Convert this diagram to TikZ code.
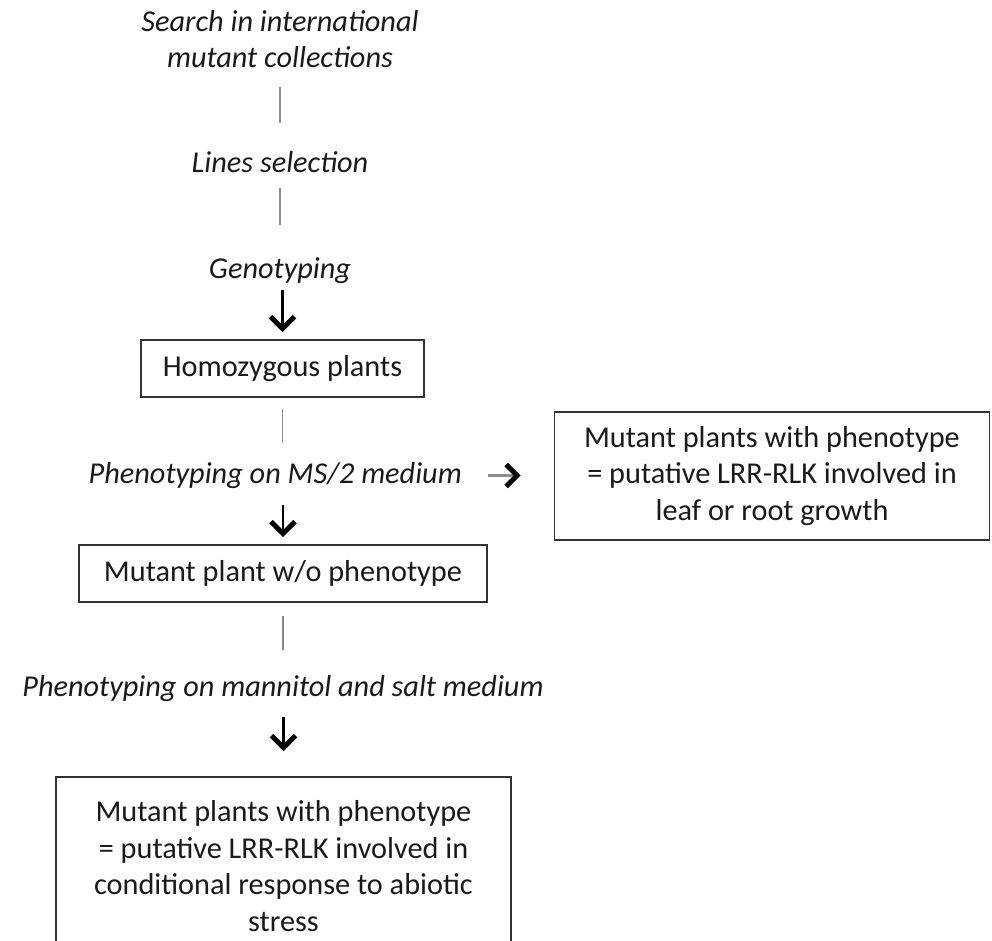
\documentclass[tikz,border=0pt]{standalone}
\usepackage{fontspec}
\setmainfont{Carlito}
\usetikzlibrary{arrows.meta}
\definecolor{txt}{HTML}{1A1A1A}
\definecolor{rule}{HTML}{8C8C8C}
\definecolor{frame}{HTML}{333333}
\begin{document}
\begin{tikzpicture}[x=1pt,y=-1pt,
    >={Straight Barb[length=12pt,width=24pt,line width=5pt]},
    stage/.style={font=\fontsize{30.3}{36.5}\selectfont\itshape, text=txt, inner sep=0pt, text height=22pt, text depth=7pt},
    result/.style={font=\fontsize{30.3}{36.5}\selectfont, text=txt, draw=frame, line width=1.6pt, inner sep=0pt, align=center},
    gline/.style={draw=rule, line width=1.6pt},
    down/.style={->, line width=2.8pt, black}]
\useasboundingbox (0,0) rectangle (992,941);
\clip (0,0) rectangle (992,941);

\node[font=\fontsize{30.3}{36.5}\selectfont\itshape, text=txt, inner sep=0pt, align=center, anchor=south](search) at (280,68){Search in international\\mutant collections};
\node[stage, anchor=base](lines) at (280,173){Lines selection};
\node[stage, anchor=base](geno) at (280,278){Genotyping};
\node[result, minimum width=283pt, minimum height=57pt](homo) at (282.5,368.5){Homozygous plants};
\node[stage, anchor=base east](ms) at (462,483){Phenotyping on MS/2 medium};
\node[result, minimum width=435pt, minimum height=128pt](growth) at (772,476){Mutant plants with phenotype\\= putative LRR-RLK involved in\\leaf or root growth};
\node[result, minimum width=408pt, minimum height=57pt](wo) at (283,573.5){Mutant plant w/o phenotype};
\node[stage, anchor=base](mann) at (283,696){Phenotyping on mannitol and salt medium};
\node[result, minimum width=455pt, minimum height=178pt](stress) at (283.5,866){Mutant plants with phenotype\\= putative LRR-RLK involved in\\conditional response to abiotic\\stress};

% grey links
\draw[gline, shorten <=19pt, shorten >=28pt](search)--(lines);
\draw[gline, shorten <=8pt, shorten >=31pt](lines)--(geno);
\draw[gline, shorten <=11pt, shorten >=18pt](homo.south)--(homo.south|-ms.north);
\draw[gline, shorten <=13pt, shorten >=24pt](wo.south)--(wo.south|-mann.north);

% arrows
\draw[down, shorten <=5pt, shorten >=7pt](homo.north|-geno.south)--(homo.north);
\draw[down, shorten <=15pt, shorten >=7pt](wo.north|-ms.south)--(wo.north);
\draw[down, shorten <=14pt, shorten >=25pt](stress.north|-mann.south)--(stress.north);
\draw[rule, line width=2.4pt, -{Straight Barb[length=11pt,width=22pt,line width=5pt,color=black]}, shorten <=26pt, shorten >=33pt](ms.east)--(ms.east-|growth.west);

\end{tikzpicture}
\end{document}
